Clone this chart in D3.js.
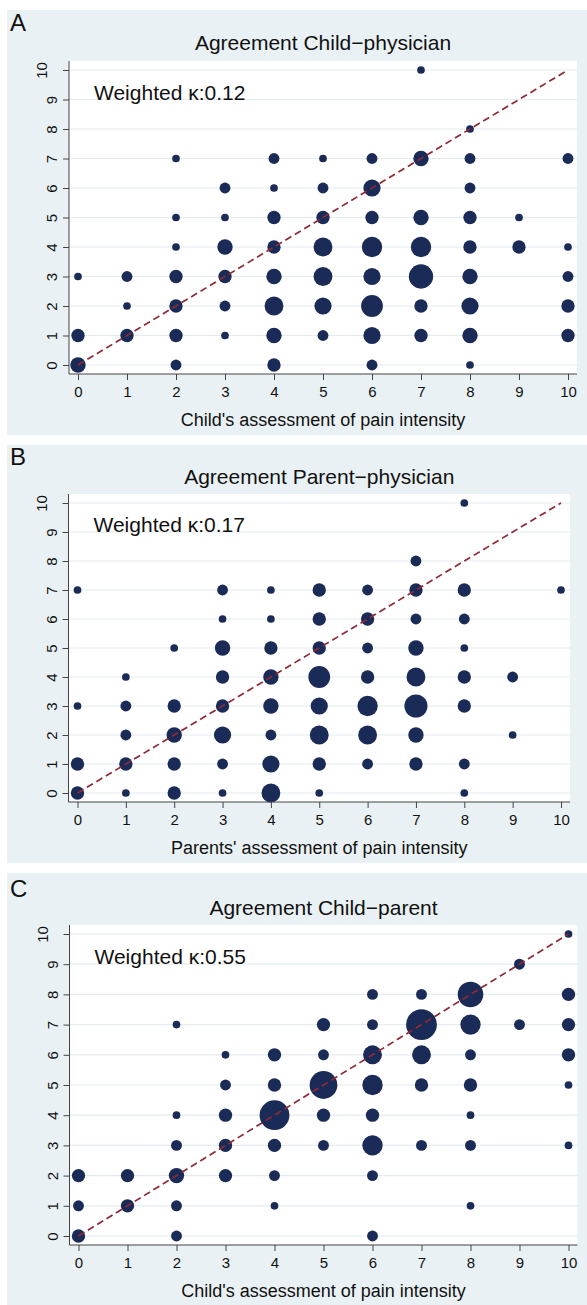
<!DOCTYPE html>
<html>
<head>
<meta charset="utf-8">
<script src="https://cdn.jsdelivr.net/npm/d3@7"></script>
<style>
  body { margin: 0; background: #fff; }
  text { font-family: "Liberation Sans", Arial, sans-serif; fill: #111; }
</style>
</head>
<body>
<script>
// Pain scale ticks, same on both axes
const ticks = [0, 1, 2, 3, 4, 5, 6, 7, 8, 9, 10];

const panelLetters = ['A', 'B', 'C'];
const titles = ['Agreement Child\u2212physician', 'Agreement Parent\u2212physician', 'Agreement Child\u2212parent'];
const xLabels = ["Child's assessment of pain intensity", "Parents' assessment of pain intensity", "Child's assessment of pain intensity"];
const kappas = ['0.12', '0.17', '0.55'];

// [x rating, y rating (physician / parent), number of patients]
const childPhysician = [
  [0,0,4],[0,1,3],[0,3,1],
  [1,1,3],[1,2,1],[1,3,2],
  [2,0,2],[2,1,3],[2,2,3],[2,3,3],[2,4,1],[2,5,1],[2,7,1],
  [3,1,1],[3,2,2],[3,3,3],[3,4,4],[3,5,1],[3,6,2],
  [4,0,3],[4,1,4],[4,2,6],[4,3,4],[4,4,3],[4,5,3],[4,6,1],[4,7,2],
  [5,1,2],[5,2,5],[5,3,6],[5,4,6],[5,5,3],[5,6,2],[5,7,1],
  [6,0,2],[6,1,5],[6,2,8],[6,3,5],[6,4,7],[6,5,3],[6,6,5],[6,7,2],
  [7,1,3],[7,2,3],[7,3,10],[7,4,7],[7,5,4],[7,7,4],[7,10,1],
  [8,0,1],[8,1,4],[8,2,5],[8,3,4],[8,4,3],[8,5,3],[8,6,2],[8,7,2],[8,8,1],
  [9,4,3],[9,5,1],
  [10,1,3],[10,2,3],[10,3,2],[10,4,1],[10,7,2]
];

const parentPhysician = [
  [0,0,3],[0,1,3],[0,3,1],[0,7,1],
  [1,0,1],[1,1,3],[1,2,2],[1,3,2],[1,4,1],
  [2,0,3],[2,1,3],[2,2,4],[2,3,3],[2,5,1],
  [3,0,1],[3,1,2],[3,2,5],[3,3,3],[3,4,3],[3,5,4],[3,6,1],[3,7,2],
  [4,0,6],[4,1,5],[4,2,2],[4,3,4],[4,4,4],[4,5,3],[4,6,1],[4,7,1],
  [5,0,1],[5,1,3],[5,2,6],[5,3,5],[5,4,8],[5,5,3],[5,6,3],[5,7,3],
  [6,1,2],[6,2,6],[6,3,7],[6,4,3],[6,5,2],[6,6,3],[6,7,2],
  [7,1,3],[7,2,4],[7,3,9],[7,4,6],[7,5,4],[7,6,2],[7,7,3],[7,8,2],
  [8,0,1],[8,1,2],[8,3,3],[8,4,3],[8,5,1],[8,6,2],[8,7,3],[8,10,1],
  [9,2,1],[9,4,2],
  [10,7,1]
];

const childParent = [
  [0,0,3],[0,1,2],[0,2,3],
  [1,1,3],[1,2,3],
  [2,0,2],[2,1,2],[2,2,4],[2,3,2],[2,4,1],[2,7,1],
  [3,2,3],[3,3,3],[3,4,3],[3,5,2],[3,6,1],
  [4,1,1],[4,2,2],[4,3,3],[4,4,15],[4,5,3],[4,6,3],
  [5,3,2],[5,4,3],[5,5,13],[5,6,2],[5,7,3],
  [6,0,2],[6,2,2],[6,3,7],[6,4,3],[6,5,7],[6,6,6],[6,7,2],[6,8,2],
  [7,3,2],[7,5,3],[7,6,6],[7,7,16],[7,8,2],
  [8,1,1],[8,3,2],[8,4,1],[8,5,3],[8,6,2],[8,7,7],[8,8,11],
  [9,7,2],[9,9,2],
  [10,3,1],[10,5,1],[10,6,3],[10,7,3],[10,8,3],[10,10,1]
];

const datasets = [childPhysician, parentPhysician, childParent];

// Where each panel sits on the page
const layout = [
  {top: 10,  bottom: 435,  x0: 78,   x10: 568,   y0: 365,  y10: 70,  letterY: 31,  titleY: 50},
  {top: 445, bottom: 863,  x0: 77.5, x10: 561,   y0: 793,  y10: 503, letterY: 465, titleY: 484},
  {top: 873, bottom: 1305, x0: 78.5, x10: 568.5, y0: 1236, y10: 934, letterY: 897, titleY: 915}
];

const width = 587, height = 1305;
const pad = 9;

const bgColor = '#eaf1f4',
      gridColor = '#e4ecf0',
      dotColor = '#1b2b57',
      lineColor = '#8e2a36';

const svg = d3.select('body')
  .append('svg')
  .attr('width', width)
  .attr('height', height);

svg.append('rect')
  .attr('width', width)
  .attr('height', height)
  .attr('fill', '#fff');

// bubble area follows the number of patients
const rScale = d3.scaleSqrt().domain([0, 16]).range([0, 15.4]);

layout.forEach((p, i) => {
  const g = svg.append('g');

  const xScale = d3.scaleLinear().domain([0, 10]).range([p.x0, p.x10]);
  const yScale = d3.scaleLinear().domain([0, 10]).range([p.y0, p.y10]);

  const left = p.x0 - pad, right = p.x10 + pad,
        top = p.y10 - pad, bottom = p.y0 + pad;

  // graph region
  g.append('rect')
    .attr('x', 7)
    .attr('y', p.top)
    .attr('width', width - 7)
    .attr('height', p.bottom - p.top)
    .attr('fill', bgColor);

  // plot region
  g.append('rect')
    .attr('x', left)
    .attr('y', top)
    .attr('width', right - left)
    .attr('height', bottom - top)
    .attr('fill', '#fff');

  // horizontal grid lines
  g.selectAll('.grid')
    .data(ticks)
    .enter()
    .append('line')
    .attr('x1', left)
    .attr('x2', right)
    .attr('y1', d => yScale(d))
    .attr('y2', d => yScale(d))
    .attr('stroke', gridColor)
    .attr('stroke-width', 1.2);

  // bubbles
  g.selectAll('circle')
    .data(datasets[i])
    .enter()
    .append('circle')
    .attr('cx', d => xScale(d[0]))
    .attr('cy', d => yScale(d[1]))
    .attr('r', d => rScale(d[2]))
    .attr('fill', dotColor);

  // line of perfect agreement
  g.append('line')
    .attr('x1', xScale(0))
    .attr('y1', yScale(0))
    .attr('x2', xScale(10))
    .attr('y2', yScale(10))
    .attr('stroke', lineColor)
    .attr('stroke-width', 1.7)
    .attr('stroke-dasharray', '7,4');

  // x axis
  const xAxis = g.append('g')
    .attr('transform', `translate(0, ${bottom})`)
    .call(d3.axisBottom(xScale).tickValues(ticks).tickSize(6).tickSizeOuter(0));
  xAxis.select('.domain').remove();
  xAxis.selectAll('line').attr('stroke', '#444');
  xAxis.selectAll('text')
    .attr('y', 18)
    .attr('dy', '0.35em')
    .style('font-size', '15px')
    .style('font-family', '"Liberation Sans", Arial, sans-serif')
    .attr('fill', '#111');

  // y axis, labels turned on their side
  const yAxis = g.append('g')
    .attr('transform', `translate(${left}, 0)`)
    .call(d3.axisLeft(yScale).tickValues(ticks).tickSize(6).tickSizeOuter(0));
  yAxis.select('.domain').remove();
  yAxis.selectAll('line').attr('stroke', '#444');
  yAxis.selectAll('text')
    .attr('x', 0)
    .attr('y', d => String(d).length > 1 ? -22 : -12)
    .attr('dy', 0)
    .attr('text-anchor', 'middle')
    .attr('transform', 'rotate(-90)')
    .style('font-size', '15px')
    .style('font-family', '"Liberation Sans", Arial, sans-serif')
    .attr('fill', '#111');

  // axis lines along the plot region edges
  g.append('line')
    .attr('x1', left).attr('x2', right)
    .attr('y1', bottom).attr('y2', bottom)
    .attr('stroke', '#444');
  g.append('line')
    .attr('x1', left).attr('x2', left)
    .attr('y1', top).attr('y2', bottom)
    .attr('stroke', '#444');

  // panel letter
  g.append('text')
    .attr('x', 10)
    .attr('y', p.letterY)
    .text(panelLetters[i])
    .style('font-size', '24px');

  // title
  g.append('text')
    .attr('x', (p.x0 + p.x10) / 2)
    .attr('y', p.titleY)
    .attr('text-anchor', 'middle')
    .text(titles[i])
    .style('font-size', '21px')
    .attr('fill', '#1a2233');

  // kappa annotation
  g.append('text')
    .attr('x', p.x0 + 16)
    .attr('y', yScale(9))
    .text('Weighted \u03ba:' + kappas[i])
    .style('font-size', '21px');

  // x axis title
  g.append('text')
    .attr('x', (p.x0 + p.x10) / 2)
    .attr('y', bottom + 52)
    .attr('text-anchor', 'middle')
    .text(xLabels[i])
    .style('font-size', '18px');
});
</script>
</body>
</html>
